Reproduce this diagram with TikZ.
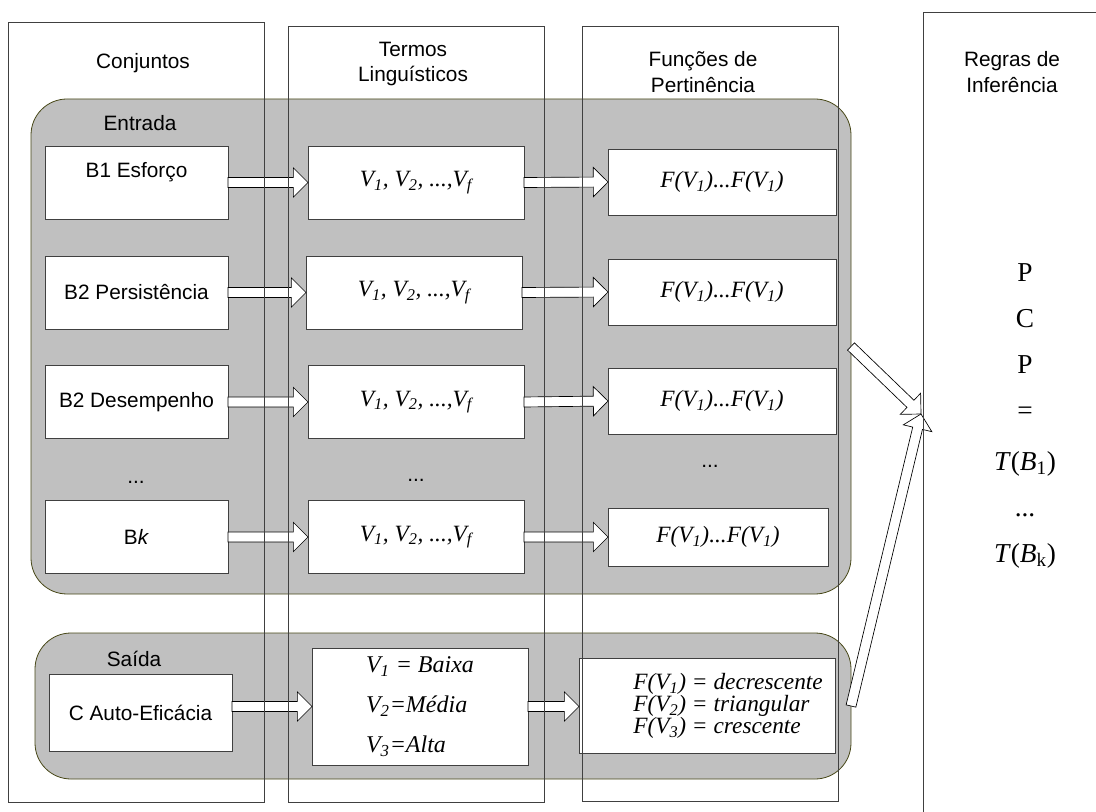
\documentclass[tikz,border=0pt]{standalone}
\usepackage{fontspec}
\setmainfont{Liberation Sans}
\newfontfamily\timesfont{Liberation Serif}
\usetikzlibrary{calc}

\definecolor{panelgrey}{RGB}{192,192,192}
\definecolor{panelline}{RGB}{72,72,24}
\definecolor{boxline}{RGB}{64,64,64}

\newcommand\txtsans{\fontsize{15.6}{19}\selectfont}
\newcommand\txtserif{\timesfont\itshape\fontsize{17.5}{21}\selectfont}

\tikzset{
  panel/.style={draw=panelline, fill=panelgrey, line width=0.6pt, rounded corners=27pt,
    inner sep=0pt, outer sep=0pt},
  column/.style={draw=boxline, line width=0.6pt, inner sep=0pt, outer sep=0pt},
  setbox/.style={draw=boxline, fill=white, line width=0.6pt, inner sep=0pt, outer sep=0pt,
    minimum width=137.25pt, minimum height=54.75pt, font=\txtsans, align=center},
  termbox/.style={setbox, minimum width=162pt, font=\txtserif},
  funcbox/.style={setbox, minimum width=171pt, minimum height=49.5pt, font=\txtserif},
  tag/.style={inner sep=0pt, font=\txtsans, align=center},
  fatarrow/.style={draw=black, fill=white, line width=0.5pt, line join=miter,
    to path={
      ($(\tikztostart)!3.75pt!90:(\tikztotarget)$)
      -- ($(\tikztotarget)!11pt!(\tikztostart)!3.75pt!90:(\tikztotarget)$)
      -- ($(\tikztotarget)!11pt!(\tikztostart)!11pt!90:(\tikztotarget)$)
      -- (\tikztotarget)
      -- ($(\tikztotarget)!11pt!(\tikztostart)!11pt!-90:(\tikztotarget)$)
      -- ($(\tikztotarget)!11pt!(\tikztostart)!3.75pt!-90:(\tikztotarget)$)
      -- ($(\tikztostart)!3.75pt!-90:(\tikztotarget)$)
      -- cycle}}
}

\begin{document}
\begin{tikzpicture}[x=0.75pt, y=-0.75pt]
\useasboundingbox (0,0) rectangle (1096,812);
\clip (0,0) rectangle (1096,812);

% grey groups
\node[panel, minimum width=615pt, minimum height=371.25pt] (entrada) at (441,346.5) {};
\node[panel, minimum width=612pt, minimum height=109.5pt] (saida) at (443,706) {};
\node[tag] (tentrada) at (140,123) {Entrada};
\node[tag] (tsaida) at (134,659) {Saída};

% conjuntos
\node[setbox] (b1) at (136.5,182.5) {B1 Esforço\\~};
\node[setbox] (b2) at (136.5,292.5) {B2 Persistência};
\node[setbox] (b3) at (136.5,402) {B2 Desempenho};
\node[tag] (bdots) at (136,482) {...};
\node[setbox] (b4) at (136.5,537) {B\textit{k}};
\node[setbox, minimum height=57.75pt] (bc) at (140.5,712.5) {C Auto-Eficácia};

% termos
\node[termbox] (v1) at (416,182.5) {V\textsubscript{1}, V\textsubscript{2}, ...,V\textsubscript{f}};
\node[termbox] (v2) at (414,292.5) {V\textsubscript{1}, V\textsubscript{2}, ...,V\textsubscript{f}};
\node[termbox] (v3) at (416,402) {V\textsubscript{1}, V\textsubscript{2}, ...,V\textsubscript{f}};
\node[tag] (vdots) at (416,480) {...};
\node[termbox] (v4) at (416,537) {V\textsubscript{1}, V\textsubscript{2}, ...,V\textsubscript{f}};
\node[termbox, minimum height=87.75pt, align=left, font=\timesfont\itshape\fontsize{18}{30}\selectfont]
  (vc) at (420,706.5) {V\textsubscript{1} = Baixa\\V\textsubscript{2}=Média\\V\textsubscript{3}=Alta};

% funcoes
\node[funcbox] (f1) at (722,182) {F(V\textsubscript{1})...F(V\textsubscript{1})};
\node[funcbox] (f2) at (722,292) {F(V\textsubscript{1})...F(V\textsubscript{1})};
\node[funcbox] (f3) at (722,401) {F(V\textsubscript{1})...F(V\textsubscript{1})};
\node[tag] (fdots) at (710,466) {...};
\node[funcbox, minimum width=165pt, minimum height=43.5pt] (f4) at (718,537) {F(V\textsubscript{1})...F(V\textsubscript{1})};
\node[funcbox, minimum width=192pt, minimum height=71.25pt] (fc) at (707,705.5) {};
\node[tag, anchor=west, align=left, font=\timesfont\itshape\fontsize{17.5}{16.5}\selectfont]
  (fctext) at (633,706)
  {F(V\textsubscript{1}) = decrescente\\F(V\textsubscript{2}) = triangular\\F(V\textsubscript{3}) = crescente};

\coordinate (rin) at (921,414);

% arrows
\draw[fatarrow] (b1.east) to (v1.west);
\draw[fatarrow] (v1.east) to (f1.west);
\draw[fatarrow] (b2.east) to (v2.west);
\draw[fatarrow] (v2.east) to (f2.west);
\draw[fatarrow] (b3.east) to (v3.west);
\draw[fatarrow] (v3.east) to (f3.west);
\draw[fatarrow] (b4.east) to (v4.west);
\draw[fatarrow] (v4.east) to (f4.west);
\draw[fatarrow] (bc.east |- vc.west) to (vc.west);
\draw[fatarrow] (vc.east) to (vc.east -| fc.west);
\draw[fatarrow] (entrada.east) to (rin);
\draw[fatarrow] (saida.east) to (rin);

% columns
\node[column, minimum width=192pt, minimum height=585pt] (col1) at (136.6,412) {};
\node[column, minimum width=192pt, minimum height=582pt] (col2) at (416,414) {};
\node[column, minimum width=192pt, minimum height=581.25pt] (col3) at (710,413.5) {};
\node[column, minimum width=140.25pt, minimum height=613.5pt] (col4) at (1016.5,421) {};

\node[tag] (hconj) at (143,63) {Conjuntos};
\node[tag] (hterm) at (413,64) {Termos\\Linguísticos};
\node[tag] (hfunc) at (703,72) {Funções de\\Pertinência};
\node[tag] (hregr) at (1012,72) {Regras de\\Inferência};

\node[tag, font=\timesfont\fontsize{20.5}{34.5}\selectfont] (regras) at (1025,416)
  {P\\C\\P\\=\\[3.75pt]\textit{T}(\textit{B}\textsubscript{1})\\...\\\textit{T}(\textit{B}\textsubscript{k})};
\end{tikzpicture}
\end{document}
